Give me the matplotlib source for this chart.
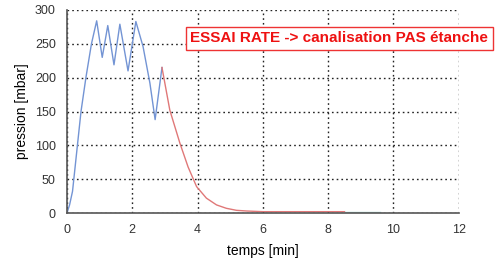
import matplotlib
matplotlib.use("Agg")
import matplotlib.pyplot as plt

# pressure test - blue: pressurisation, red: decay, cyan: tail
t_blue = [0.0, 0.08, 0.17, 0.21, 0.32, 0.43, 0.58, 0.75, 0.91, 1.08, 1.25, 1.44, 1.62, 1.87,
          2.11, 2.33, 2.54, 2.70, 2.91]
p_blue = [0, 12, 32, 50, 100, 150, 200, 250, 284, 230, 277, 219, 279, 210,
          283, 246, 192, 138, 215]

t_red = [2.91, 3.15, 3.46, 3.71, 3.97, 4.27, 4.58, 4.88, 5.19, 5.5, 6.0, 7.0, 8.0, 8.5]
p_red = [215, 152, 103, 68, 39, 22, 12, 7, 4, 3, 2, 2, 2, 2]

t_tail = [8.5, 9.0, 9.6]
p_tail = [2, 2, 2]

x_ticks = [0, 2, 4, 6, 8, 10, 12]
y_ticks = [0, 50, 100, 150, 200, 250, 300]

plt.rcParams['font.family'] = ['Liberation Sans', 'DejaVu Sans']

fig = plt.figure(figsize=(4.96, 2.63), dpi=100)
ax = fig.add_axes([0.135, 0.19, 0.79, 0.772])

ax.plot(t_blue, p_blue, color='#7394d4', lw=1.0)
ax.plot(t_red, p_red, color='#e07878', lw=1.0)
ax.plot(t_tail, p_tail, color='#a8d4d0', lw=1.0)

ax.set_xlim(0, 12)
ax.set_ylim(0, 300)
ax.set_xticks(x_ticks)
ax.set_yticks(y_ticks)
ax.tick_params(length=0, labelsize=9, colors='#333333', pad=8)
ax.grid(True, linestyle=(0, (1.2, 2.2)), color='#222222', lw=1.0)

for s in ['top', 'right']:
    ax.spines[s].set_visible(False)
for s in ['left', 'bottom']:
    ax.spines[s].set_color('#555555')
    ax.spines[s].set_linewidth(1.2)

ax.set_xlabel('temps [min]', fontsize=10, labelpad=6)
ax.set_ylabel('pression [mbar]', fontsize=10, labelpad=4)

fig.text(0.684, 0.854, 'ESSAI RATE -> canalisation PAS étanche', color='#ee1111',
         fontsize=11, fontweight='bold', ha='center', va='center',
         bbox=dict(boxstyle='square,pad=0.3', fc='white', ec='#ee3333', lw=1.0))

fig.savefig('out.png', dpi=100)
